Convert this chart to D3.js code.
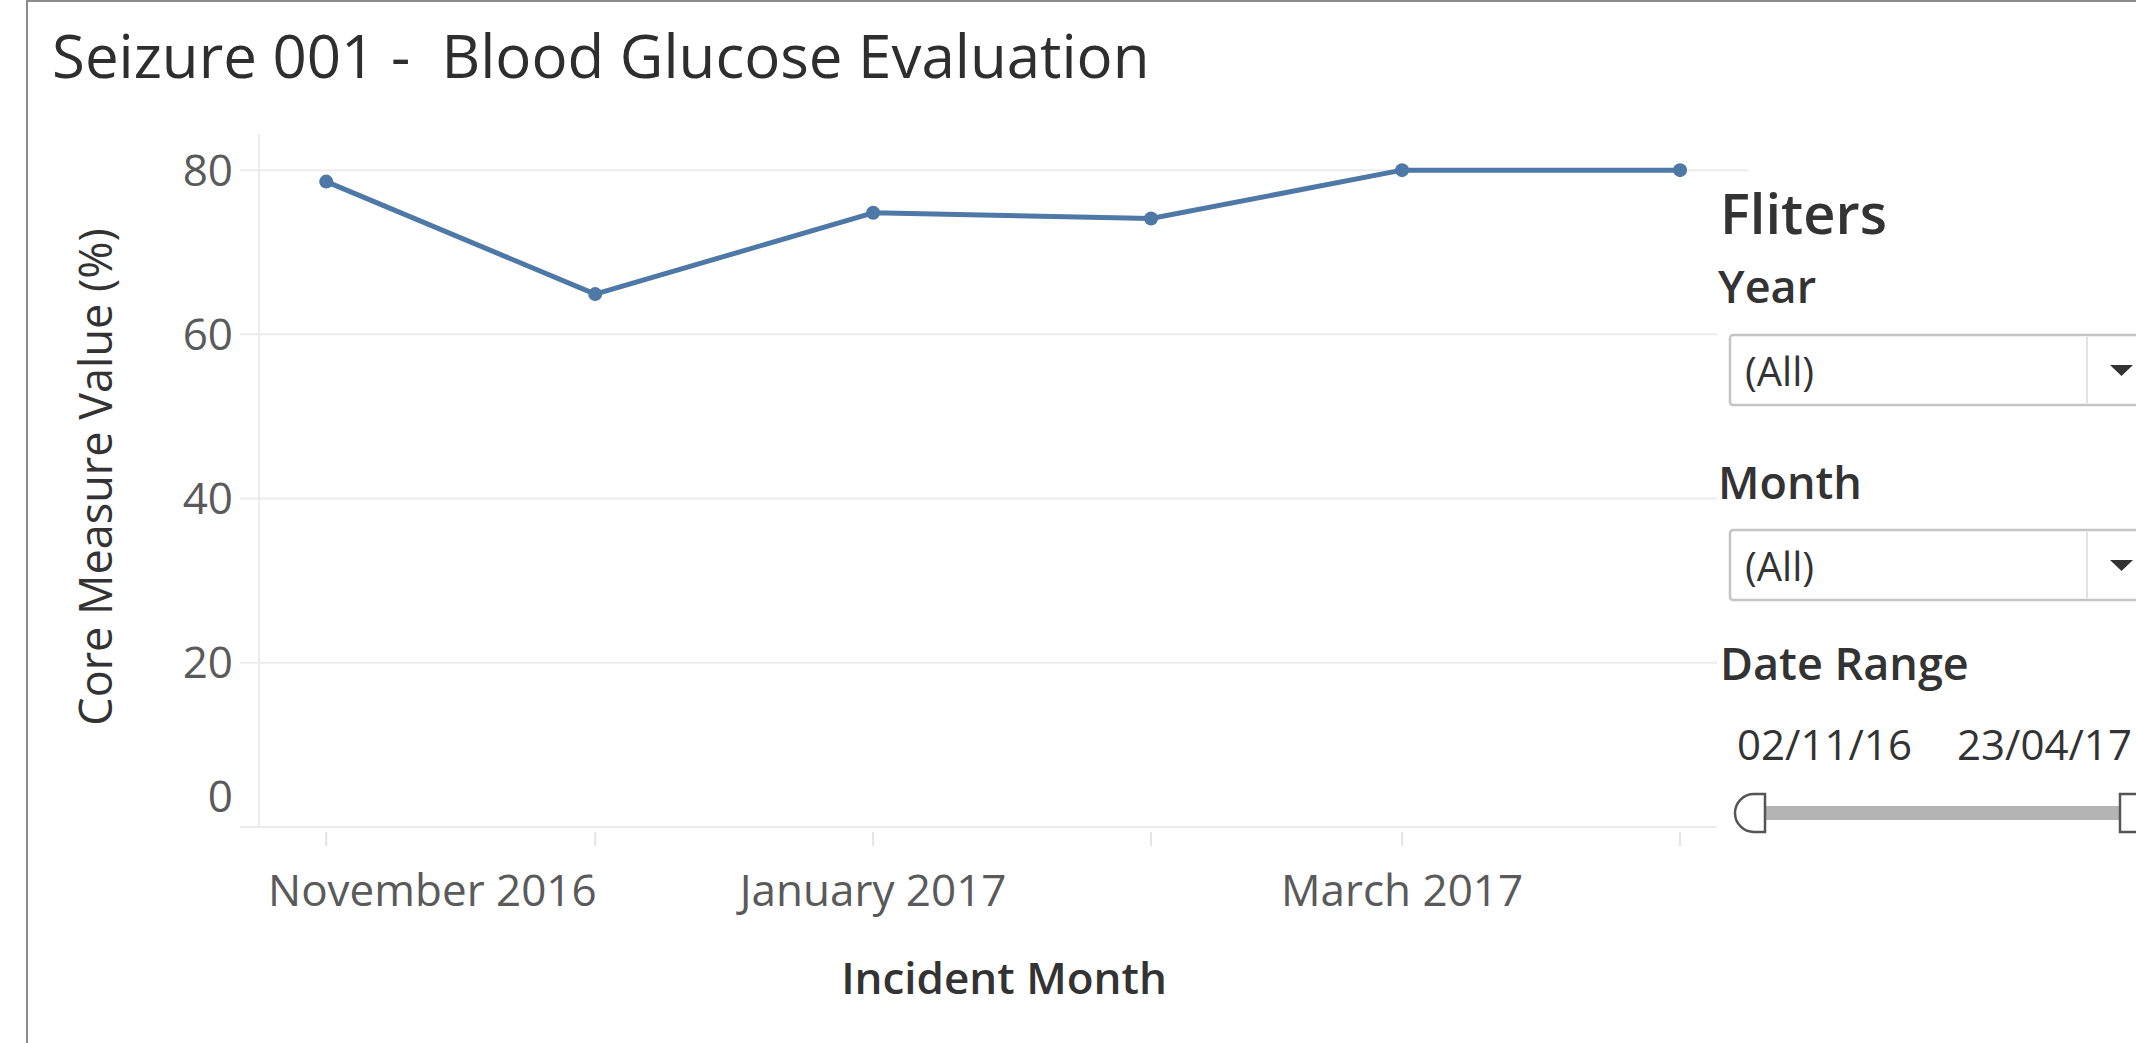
<!DOCTYPE html>
<meta charset="utf-8">
<title>Seizure 001 - Blood Glucose Evaluation</title>
<style>

body {
  margin: 0;
  background: #fff;
}

text {
  font-family: "Open Sans", sans-serif;
}

.grid {
  stroke: #ececec;
  stroke-width: 2px;
}

.tick-mark {
  stroke: #e4e4e4;
  stroke-width: 2px;
}

.axis-label {
  fill: #5a5a5a;
  font-size: 44px;
}

.heading {
  fill: #333;
  font-weight: 600;
  font-size: 45px;
}

.dropdown {
  fill: #fff;
  stroke: #c4c4c4;
  stroke-width: 2.5px;
}

</style>
<body>
<script src="https://d3js.org/d3.v7.min.js"></script>
<script>

// data
var months = ["2016-11-01", "2016-12-01", "2017-01-01", "2017-02-01", "2017-03-01", "2017-04-01"];
var values = [78.6, 64.9, 74.8, 74.1, 80, 80];
var yTicks = [0, 20, 40, 60, 80];
var labelledMonths = ["2016-11-01", "2017-01-01", "2017-03-01"];

var filterNames = ["Year", "Month"];
var filterValues = ["(All)", "(All)"];
var dateRange = ["02/11/16", "23/04/17"];

var width = 2136,
    height = 1043;

var parse = d3.timeParse("%Y-%m-%d");
var dates = months.map(parse);
var labelDates = labelledMonths.map(parse);

var svg = d3.select("body").append("svg")
            .attr("width", width)
            .attr("height", height);

var x = d3.scaleTime()
  .domain([d3.timeHour.offset(dates[0], -180), d3.timeHour.offset(dates[dates.length - 1], 182)])
  .range([259, 1748]);

var y = d3.scaleLinear()
  .domain([0, 84.4])
  .range([827, 134]);

// outer frame (left + top only visible)
svg.append("line").attr("x1", 27).attr("x2", 27).attr("y1", 0).attr("y2", height)
  .attr("stroke", "#8c8c8c").attr("stroke-width", 2);
svg.append("line").attr("x1", 27).attr("x2", width).attr("y1", 1).attr("y2", 1)
  .attr("stroke", "#8c8c8c").attr("stroke-width", 2);

// title
svg.append("text")
  .attr("x", 52)
  .attr("y", 78)
  .style("white-space", "pre")
  .attr("font-size", 60)
  .attr("font-weight", 500)
  .attr("fill", "#2e2e2e")
  .text("Seizure 001 -  Blood Glucose Evaluation");

// grid
svg.selectAll(".grid")
  .data(yTicks)
  .enter().append("line")
    .attr("class", "grid")
    .attr("x1", 240)
    .attr("x2", x.range()[1])
    .attr("y1", function(d) { return y(d); })
    .attr("y2", function(d) { return y(d); });

svg.append("line")
  .attr("class", "grid")
  .attr("x1", x.range()[0]).attr("x2", x.range()[0])
  .attr("y1", y.range()[1]).attr("y2", y(0));

// y tick labels (0 is pushed up to stay inside the pane)
svg.selectAll(".ylab")
  .data(yTicks)
  .enter().append("text")
    .attr("class", "axis-label ylab")
    .attr("x", 233)
    .attr("y", function(d) { return d == 0 ? y(d) - 30 : y(d); })
    .attr("dy", "0.35em")
    .attr("text-anchor", "end")
    .text(function(d) { return d; });

svg.append("text")
  .attr("transform", "translate(112," + 477 + ") rotate(-90)")
  .attr("text-anchor", "middle")
  .attr("font-size", 45)
  .attr("fill", "#333")
  .text("Core Measure Value (%)");

// x ticks
svg.selectAll(".tick-mark")
  .data(dates)
  .enter().append("line")
    .attr("class", "tick-mark")
    .attr("x1", function(d) { return x(d); })
    .attr("x2", function(d) { return x(d); })
    .attr("y1", 832)
    .attr("y2", 846);

var fmt = d3.timeFormat("%B %Y");
svg.selectAll(".xlab")
  .data(labelDates)
  .enter().append("text")
    .attr("class", "axis-label xlab")
    .attr("y", 906)
    .attr("text-anchor", "middle")
    .text(function(d) { return fmt(d); })
    .attr("x", function(d) {
      var w = this.getComputedTextLength();
      return Math.max(x(d), 268 + w / 2);
    });

svg.append("text")
  .attr("x", 1004)
  .attr("y", 994)
  .attr("text-anchor", "middle")
  .attr("font-size", 44)
  .attr("font-weight", 600)
  .attr("fill", "#333")
  .text("Incident Month");

// line + points
var line = d3.line()
  .x(function(d, i) { return x(dates[i]); })
  .y(function(d) { return y(d); });

svg.append("path")
  .datum(values)
  .attr("d", line)
  .attr("fill", "none")
  .attr("stroke", "#4e79a7")
  .attr("stroke-width", 5)
  .attr("stroke-linejoin", "round");

svg.selectAll(".pt")
  .data(values)
  .enter().append("circle")
    .attr("class", "pt")
    .attr("cx", function(d, i) { return x(dates[i]); })
    .attr("cy", function(d) { return y(d); })
    .attr("r", 7)
    .attr("fill", "#4e79a7");

// filter panel floating over the pane
var panel = svg.append("g");

panel.append("rect")
  .attr("x", 1717).attr("y", 182)
  .attr("width", width - 1717).attr("height", height - 182)
  .attr("fill", "#fff");

panel.append("text")
  .attr("x", 1720).attr("y", 234)
  .attr("font-size", 56).attr("font-weight", 600).attr("fill", "#333")
  .text("Fliters");

var boxTop = [335, 530];
var headY = [303, 499];

filterNames.forEach(function(name, i) {
  panel.append("text")
    .attr("class", "heading")
    .attr("x", 1718).attr("y", headY[i])
    .text(name);

  panel.append("rect")
    .attr("class", "dropdown")
    .attr("x", 1730).attr("y", boxTop[i])
    .attr("width", 440).attr("height", 70)
    .attr("rx", 3);

  panel.append("line")
    .attr("x1", 2087).attr("x2", 2087)
    .attr("y1", boxTop[i] + 2).attr("y2", boxTop[i] + 68)
    .attr("stroke", "#e2e2e2").attr("stroke-width", 2);

  panel.append("text")
    .attr("x", 1745).attr("y", boxTop[i] + 37)
    .attr("dy", "0.35em")
    .attr("font-size", 40).attr("fill", "#333")
    .text(filterValues[i]);

  var ty = boxTop[i] + 30;
  panel.append("path")
    .attr("d", "M2110," + ty + "L2133," + ty + "L2121.5," + (ty + 11) + "Z")
    .attr("fill", "#333");
});

panel.append("text")
  .attr("class", "heading")
  .attr("x", 1720).attr("y", 680)
  .text("Date Range");

panel.selectAll(".range")
  .data(dateRange)
  .enter().append("text")
    .attr("class", "range")
    .attr("x", function(d, i) { return i == 0 ? 1737 : 1957; })
    .attr("y", 760)
    .attr("font-size", 42)
    .attr("fill", "#333")
    .text(function(d) { return d; });

// slider
panel.append("rect")
  .attr("x", 1765).attr("y", 806)
  .attr("width", 355).attr("height", 14)
  .attr("fill", "#b4b4b4");

panel.append("path")
  .attr("d", "M1765,794H1754A19,19 0 0 0 1754,832H1765Z")
  .attr("fill", "#fff").attr("stroke", "#555").attr("stroke-width", 2.5);

panel.append("rect")
  .attr("x", 2120).attr("y", 794)
  .attr("width", 30).attr("height", 38)
  .attr("fill", "#fff").attr("stroke", "#555").attr("stroke-width", 2.5);

</script>
</body>
</html>
